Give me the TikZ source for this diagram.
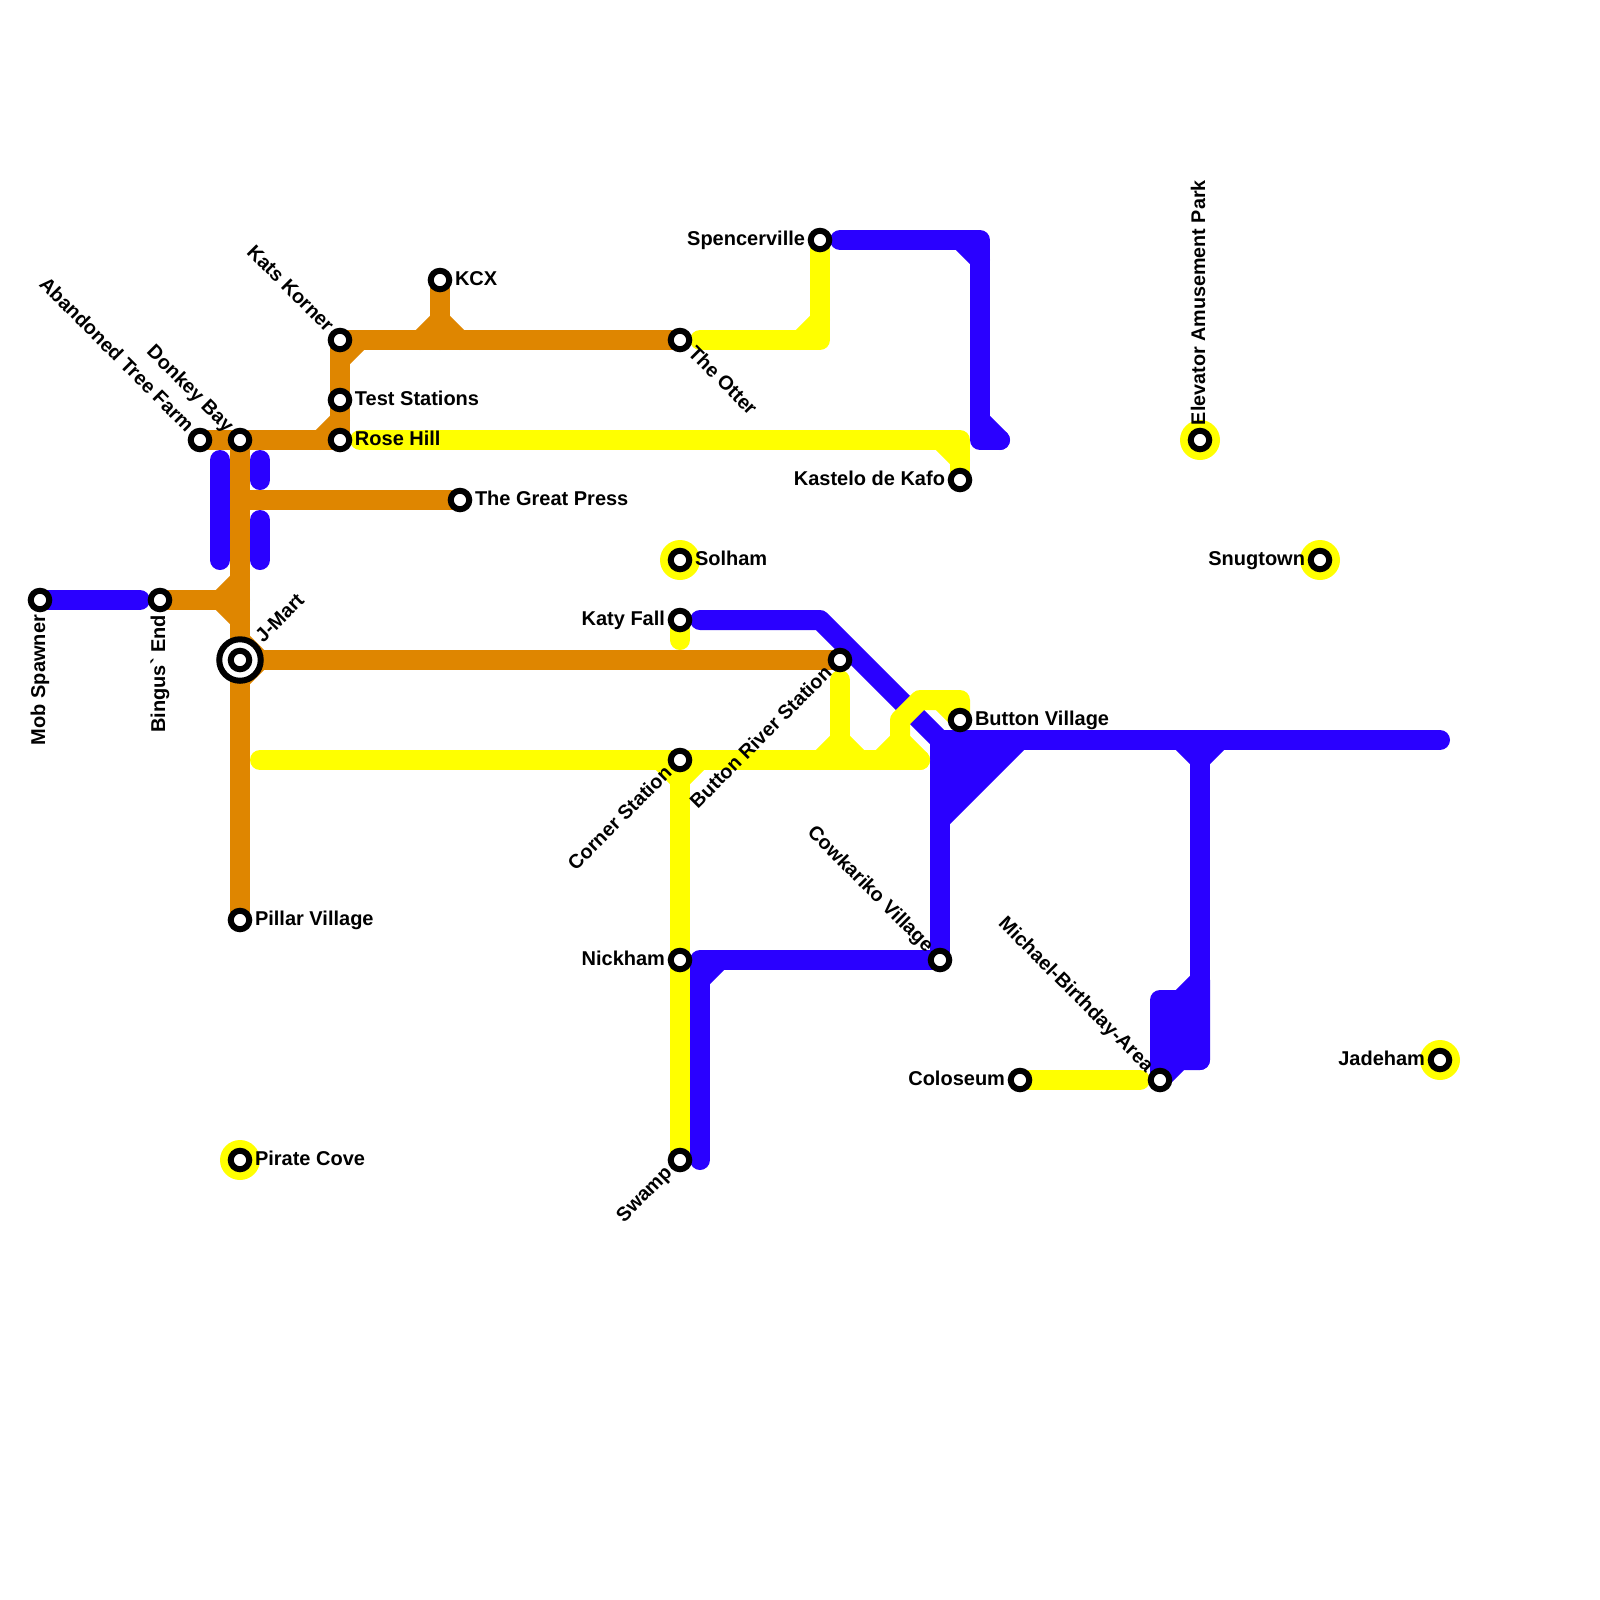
\documentclass[tikz,border=0pt]{standalone}
\usepackage{fontspec}
\setmainfont{Liberation Sans}
\usetikzlibrary{backgrounds}
\definecolor{lineorange}{RGB}{223,134,0}
\definecolor{lineblue}{RGB}{42,0,255}
\definecolor{lineyellow}{RGB}{255,255,0}

\begin{document}
\begin{tikzpicture}[
    x=0.2cm, y=-0.2cm,
    station/.style={circle, draw=black, fill=white, line width=0.06cm, minimum size=0.185cm, inner sep=0pt, outer sep=0pt},
    hub/.style={circle, draw=black, fill=white, line width=0.06cm, minimum size=0.415cm, inner sep=0pt, outer sep=0pt},
    halo/.style={circle, fill=lineyellow, minimum size=0.4cm, inner sep=0pt, outer sep=0pt},
    stationlabel/.style={font=\fontsize{5.69}{6}\selectfont\bfseries, inner sep=0pt, outer sep=0pt, text=black},
    tiltlabel/.style={font=\fontsize{5.62}{6}\selectfont\bfseries, inner sep=0pt, outer sep=0pt, text=black},
    orangeline/.style={draw=lineorange, line width=0.2cm, line cap=round, line join=round},
    blueline/.style={draw=lineblue, line width=0.2cm, line cap=round, line join=round},
    yellowline/.style={draw=lineyellow, line width=0.2cm, line cap=round, line join=round}
]
\useasboundingbox (0,0) rectangle (80,80);

% ─── Stations ────────────────────────────────────────────────────────
\foreach \n/\x/\y in {solham/34/28, pirate/12/58, elevator/60/22, snugtown/66/28, jadeham/72/53} {
    \node[halo] (\n halo) at (\x, \y) {};
}
\node[hub] (jmarthub) at (12, 33) {};
\foreach \n/\x/\y in {mobspawner/2/30, bingus/8/30, abandoned/10/22, donkey/12/22, kats/17/17, kcx/22/14,
    test/17/20, rose/17/22, press/23/25, jmart/12/33, pillar/12/46, pirate/12/58, otter/34/17,
    spencerville/41/12, kastelo/48/24, solham/34/28, katy/34/31, corner/34/38, nickham/34/48,
    swamp/34/58, river/42/33, village/48/36, cowkariko/47/48, coloseum/51/54, michael/58/54,
    elevator/60/22, snugtown/66/28, jadeham/72/53} {
    \node[station] (\n) at (\x, \y) {};
}
\coordinate (buttonhub) at (47, 37);
\coordinate (eastend) at (72, 37);
\coordinate (kafoend) at (49, 22);

\begin{scope}[on background layer]
% ─── Orange Lines ────────────────────────────────────────────────────
\draw[orangeline] (abandoned.center) -- (rose.center);
\draw[orangeline] (kats.center) -- (rose.center);
\draw[orangeline] (kats.center) ++(0,1) -- ++(1,-1);
\draw[orangeline] (rose.center) ++(0,-1) -- ++(-1,1);
\draw[orangeline] (kats.center) -- (otter.center);
\draw[orangeline] (kcx.center) -- ++(0,3);
\draw[orangeline] (kcx.center) ++(0,2) -- ++(-1,1);
\draw[orangeline] (kcx.center) ++(0,2) -- ++(1,1);
\draw[orangeline] (donkey.center) -- (pillar.center);
\draw[orangeline] (press.center) -- (donkey.center |- press.center);
\draw[orangeline] (bingus.center) -- (jmart.center |- bingus.center);
\draw[orangeline] (bingus.center) ++(3,0) -- ++(1,-1);
\draw[orangeline] (bingus.center) ++(3,0) -- ++(1,1);
\draw[orangeline] (jmart.center) -- (river.center);
\draw[orangeline] (jmart.center) ++(0,-1) -- ++(1,1);
\draw[orangeline] (jmart.center) ++(0,1) -- ++(1,-1);

% ─── Blue Lines ──────────────────────────────────────────────────────
\draw[blueline] (mobspawner.center) -- ++(5,0);
\draw[blueline] (donkey.center) ++(-1,1) -- ++(0,5);
\draw[blueline] (donkey.center) ++(1,1) -- ++(0,1);
\draw[blueline] (donkey.center) ++(1,4) -- ++(0,2);
\draw[blueline] (spencerville.center) ++(1,0) -| (kafoend) -- ++(1,0);
\draw[blueline] (spencerville.center) ++(7,0) -- ++(1,1);
\draw[blueline] (kafoend) ++(0,-1) -- ++(1,1);
\draw[blueline] (katy.center) ++(1,0) -- ++(6,0) -- (buttonhub);
\draw[blueline] (buttonhub) -- (eastend);
\draw[blueline] (buttonhub) -- (cowkariko.center) -- (nickham.center -| 35,0) -- (swamp.center -| 35,0);
\draw[blueline] (nickham.center) ++(1,1) -- ++(1,-1);
\draw[blueline, fill=lineblue] (buttonhub) -- ++(4,0) -- ++(-4,4) -- cycle;
\draw[blueline] (elevator.center |- eastend) -- ++(0,16);
\draw[blueline] (elevator.center |- eastend) ++(-1,0) -- ++(1,1);
\draw[blueline] (elevator.center |- eastend) ++(1,0) -- ++(-1,1);
\draw[blueline, fill=lineblue] (michael.center) -- ++(0,-4) -- ++(1,0) -- ++(1,-1) -- ++(0,4) -- ++(-1,0) -- cycle;

% ─── Yellow Lines ────────────────────────────────────────────────────
\draw[yellowline] (otter.center) ++(1,0) -| (spencerville.center);
\draw[yellowline] (spencerville.center) ++(0,4) -- ++(-1,1);
\draw[yellowline] (rose.center) ++(1,0) -| (kastelo.center);
\draw[yellowline] (kastelo.center) ++(0,-1) -- ++(-1,-1);
\draw[yellowline] (katy.center) -- ++(0,1);
\draw[yellowline] (corner.center) ++(-21,0) -- ++(33,0);
\draw[yellowline] (corner.center) -- (swamp.center);
\draw[yellowline] (corner.center) ++(0,1) -- ++(1,-1);
\draw[yellowline] (corner.center) ++(0,1) -- ++(-1,-1);
\draw[yellowline] (river.center) ++(0,1) -- ++(0,4);
\draw[yellowline] (river.center) ++(0,4) -- ++(-1,1);
\draw[yellowline] (river.center) ++(0,4) -- ++(1,1);
\draw[yellowline] (village.center) -- ++(0,-1) -- ++(-2,0) -- ++(-1,1) -- ++(0,2);
\draw[yellowline] (village.center) -- ++(-1,-1);
\draw[yellowline] (village.center) ++(-3,1) -- ++(-1,1);
\draw[yellowline] (village.center) ++(-3,1) -- ++(1,1);
\draw[yellowline] (coloseum.center) -- ++(6,0);
\end{scope}

% ─── Labels ──────────────────────────────────────────────────────────
\foreach \n/\t in {kcx/KCX, test/Test Stations, rose/Rose Hill, press/The Great Press,
    pillar/Pillar Village, pirate/Pirate Cove, solham/Solham, village/Button Village} {
    \node[stationlabel, anchor=base west, xshift=0.15cm, yshift=-0.05cm] (\n label) at (\n) {\t};
}
\foreach \n/\r/\t in {spencerville/0/Spencerville, kastelo/0/Kastelo de Kafo, katy/0/Katy Fall,
    nickham/0/Nickham, coloseum/0/Coloseum, snugtown/0/Snugtown, jadeham/0/Jadeham,
    mobspawner/90/Mob Spawner, bingus/90/Bingus\textasciigrave{} End} {
    \node[stationlabel, anchor=base east, rotate=\r, xshift=-0.15cm, yshift=-0.05cm] (\n label) at (\n) {\t};
}
\foreach \n/\r/\s/\t in {jmart/45/0.28/J-Mart, otter/-45/0.15/The Otter, elevator/90/0.15/Elevator Amusement Park} {
    \node[tiltlabel, anchor=base west, rotate=\r, xshift=\s cm, yshift=-0.05cm] (\n label) at (\n) {\t};
}
\foreach \n/\r/\t in {abandoned/-45/Abandoned Tree Farm, donkey/-45/Donkey Bay, kats/-45/Kats Korner,
    corner/45/Corner Station, river/45/Button River Station, swamp/45/Swamp,
    cowkariko/-45/Cowkariko Village, michael/-45/Michael-Birthday-Area} {
    \node[tiltlabel, anchor=base east, rotate=\r, xshift=-0.15cm, yshift=-0.05cm] (\n label) at (\n) {\t};
}

\end{tikzpicture}
\end{document}
